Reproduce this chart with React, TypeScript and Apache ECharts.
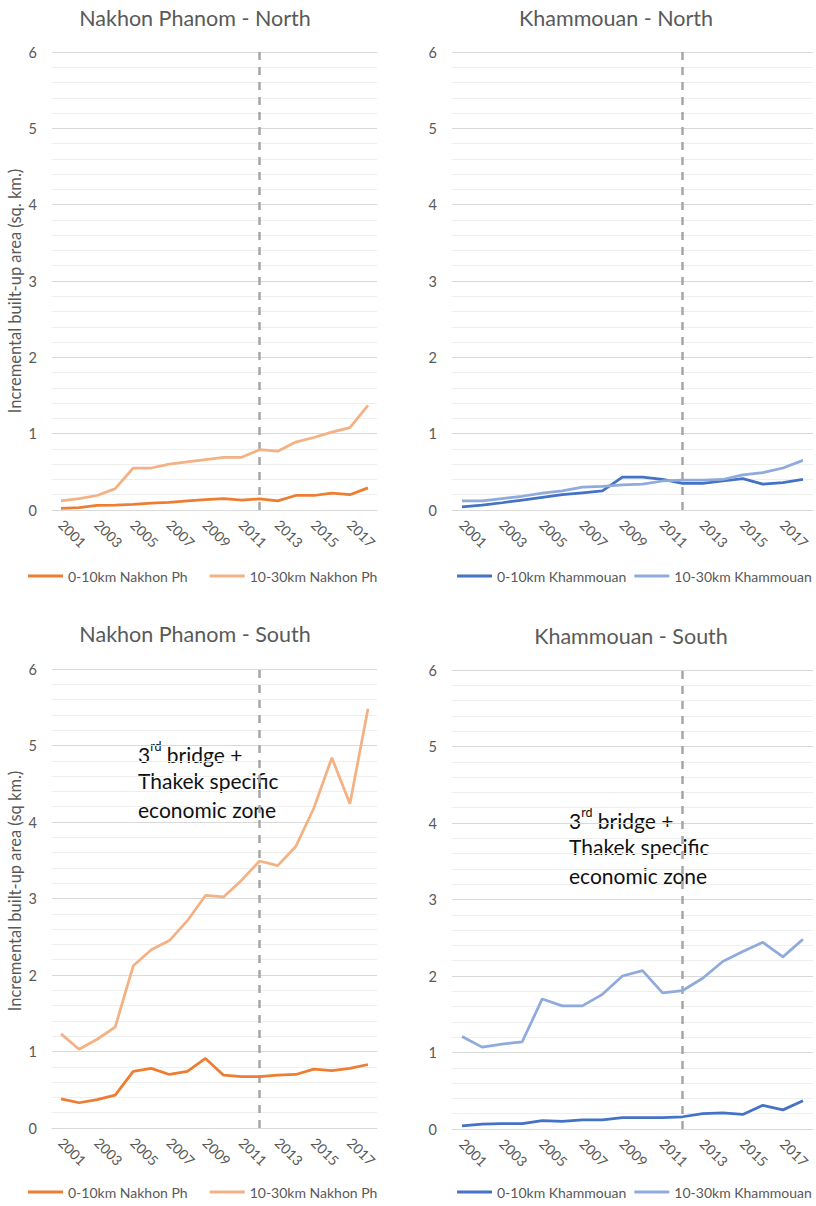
import React, { useEffect, useRef } from 'react';
import * as echarts from 'echarts';

const years = ['2001','2002','2003','2004','2005','2006','2007','2008','2009','2010','2011','2012','2013','2014','2015','2016','2017','2018'];

const npNorth010 = [0.02,0.03,0.06,0.065,0.075,0.09,0.10,0.12,0.135,0.15,0.13,0.145,0.12,0.19,0.19,0.22,0.20,0.29];
const npNorth1030 = [0.12,0.15,0.19,0.28,0.55,0.55,0.60,0.63,0.66,0.69,0.69,0.79,0.77,0.89,0.95,1.02,1.08,1.37];
const khNorth010 = [0.04,0.065,0.095,0.13,0.165,0.20,0.225,0.25,0.43,0.43,0.40,0.35,0.35,0.38,0.41,0.34,0.36,0.40];
const khNorth1030 = [0.12,0.12,0.15,0.18,0.22,0.25,0.30,0.31,0.33,0.34,0.38,0.39,0.39,0.40,0.46,0.49,0.55,0.65];
const npSouth010 = [0.38,0.33,0.37,0.43,0.74,0.78,0.70,0.74,0.91,0.69,0.67,0.67,0.69,0.70,0.77,0.75,0.78,0.83];
const npSouth1030 = [1.23,1.03,1.16,1.32,2.12,2.33,2.45,2.71,3.04,3.02,3.24,3.49,3.43,3.68,4.18,4.84,4.24,5.48];
const khSouth010 = [0.04,0.065,0.07,0.07,0.11,0.10,0.12,0.12,0.15,0.15,0.15,0.16,0.20,0.21,0.19,0.31,0.25,0.37];
const khSouth1030 = [1.21,1.07,1.11,1.14,1.70,1.61,1.61,1.76,2.00,2.07,1.78,1.81,1.97,2.19,2.32,2.44,2.25,2.48];

const yTicks = [0, 6, 1];
const eventYear = '2012';

const panelTitles = ['Nakhon Phanom - North', 'Khammouan - North', 'Nakhon Phanom - South', 'Khammouan - South'];
const yNames = ['Incremental built-up area (sq. km.)', '', 'Incremental built-up area (sq km.)', ''];
const seriesNames = [
  ['0-10km Nakhon Ph', '10-30km Nakhon Ph'],
  ['0-10km Khammouan', '10-30km Khammouan'],
  ['0-10km Nakhon Ph', '10-30km Nakhon Ph'],
  ['0-10km Khammouan', '10-30km Khammouan'],
];
const seriesData = [
  [npNorth010, npNorth1030],
  [khNorth010, khNorth1030],
  [npSouth010, npSouth1030],
  [khSouth010, khSouth1030],
];
const annotationLines = ['Thakek specific', 'economic zone'];

const FONT = 'Lato, "Noto Sans", sans-serif';
const ORANGE = ['#ED7D31', '#F4B183'];
const BLUE = ['#4472C4', '#8FAADC'];

const layout = [
  { grid: { left: 52, top: 52, width: 325, height: 458 }, title: [195, 18], legend: [28, 569], gap: 22, yName: [15, 291], colors: ORANGE },
  { grid: { left: 452, top: 52, width: 361, height: 458 }, title: [616, 18], legend: [457, 569], gap: 8, yName: null, colors: BLUE },
  { grid: { left: 52, top: 669, width: 325, height: 459 }, title: [195, 634], legend: [28, 1185], gap: 22, yName: [15, 891], colors: ORANGE },
  { grid: { left: 452, top: 670, width: 361, height: 459 }, title: [631, 636], legend: [457, 1185], gap: 8, yName: null, colors: BLUE },
];
const annotationPos = [null, null, [138, 752], [569, 818]];

function buildOption() {
  const grid = layout.map((l) => ({ ...l.grid, containLabel: false }));
  const xAxis = layout.map((_, i) => ({
    gridIndex: i,
    type: 'category',
    data: years,
    boundaryGap: true,
    axisLine: { show: true, lineStyle: { color: '#d9d9d9', width: 1 } },
    axisTick: { show: false },
    axisLabel: { rotate: -45, interval: 1, color: '#595959', fontSize: 14, margin: 12, fontFamily: FONT },
    splitLine: { show: false },
  }));
  const yAxis = layout.map((_, i) => ({
    gridIndex: i,
    type: 'value',
    min: yTicks[0],
    max: yTicks[1],
    interval: yTicks[2],
    axisLine: { show: false },
    axisTick: { show: false },
    axisLabel: { color: '#595959', fontSize: 14.5, margin: 15, fontFamily: FONT },
    splitLine: { show: true, lineStyle: { color: '#d9d9d9', width: 1 } },
    minorTick: { show: false, splitNumber: 5 },
    minorSplitLine: { show: true, lineStyle: { color: '#eeeeee', width: 1 } },
  }));
  const series: any[] = [];
  seriesData.forEach((pair, i) => {
    pair.forEach((d, j) => {
      const s: any = {
        type: 'line',
        name: seriesNames[i][j],
        xAxisIndex: i,
        yAxisIndex: i,
        data: d,
        symbol: 'none',
        smooth: false,
        lineStyle: { width: 2.75, color: layout[i].colors[j] },
        itemStyle: { color: layout[i].colors[j] },
        z: 3 + j,
      };
      if (j === 0) {
        s.markLine = {
          silent: true,
          symbol: ['none', 'none'],
          label: { show: false },
          lineStyle: { type: [8, 7], color: '#a6a6a6', width: 2.5 },
          data: [{ xAxis: eventYear }],
          z: 2,
        };
      }
      series.push(s);
    });
  });
  const legend = layout.map((l, i) => ({
    data: seriesNames[i],
    left: l.legend[0],
    top: l.legend[1],
    width: 370,
    padding: 0,
    orient: 'horizontal',
    icon: 'rect',
    itemWidth: 35,
    itemHeight: 3,
    itemGap: l.gap,
    selectedMode: false,
    textStyle: { color: '#595959', fontSize: 14, fontFamily: FONT },
  }));
  const graphic: any[] = [];
  layout.forEach((l, i) => {
    graphic.push({
      type: 'text',
      x: l.title[0],
      y: l.title[1],
      style: {
        text: panelTitles[i],
        fill: '#595959',
        fontSize: 21.5,
        fontFamily: FONT,
        align: 'center',
        verticalAlign: 'middle',
      },
    });
    if (l.yName) {
      graphic.push({
        type: 'text',
        x: l.yName[0],
        y: l.yName[1],
        rotation: Math.PI / 2,
        style: {
          text: yNames[i],
          fill: '#595959',
          fontSize: 16.5,
          fontFamily: FONT,
          align: 'center',
          verticalAlign: 'middle',
        },
      });
    }
  });
  annotationPos.forEach((p) => {
    if (!p) return;
    graphic.push({
      type: 'text',
      x: p[0],
      y: p[1],
      style: {
        text: '{a|3}{s|rd}{a| bridge +}',
        verticalAlign: 'middle',
        rich: {
          a: { fontSize: 21, fontFamily: FONT, fill: '#111111', lineHeight: 25, verticalAlign: 'bottom' },
          s: { fontSize: 12.5, fontFamily: FONT, fill: '#111111', lineHeight: 15, verticalAlign: 'top' },
        },
      },
    });
    annotationLines.forEach((t, k) => {
      graphic.push({
        type: 'text',
        x: p[0],
        y: p[1] + 28.5 * (k + 1),
        style: { text: t, fill: '#111111', fontSize: 21, fontFamily: FONT, verticalAlign: 'middle' },
      });
    });
  });
  return {
    animation: false,
    backgroundColor: '#ffffff',
    grid,
    xAxis,
    yAxis,
    series,
    legend,
    graphic,
  };
}

export default function App() {
  const ref = useRef<HTMLDivElement>(null);
  useEffect(() => {
    document.body.style.margin = '0';
    const chart = echarts.init(ref.current!, null, { renderer: 'svg' });
    chart.setOption(buildOption() as any);
    return () => chart.dispose();
  }, []);
  return <div ref={ref} style={{ width: 816, height: 1206, background: '#ffffff' }} />;
}
